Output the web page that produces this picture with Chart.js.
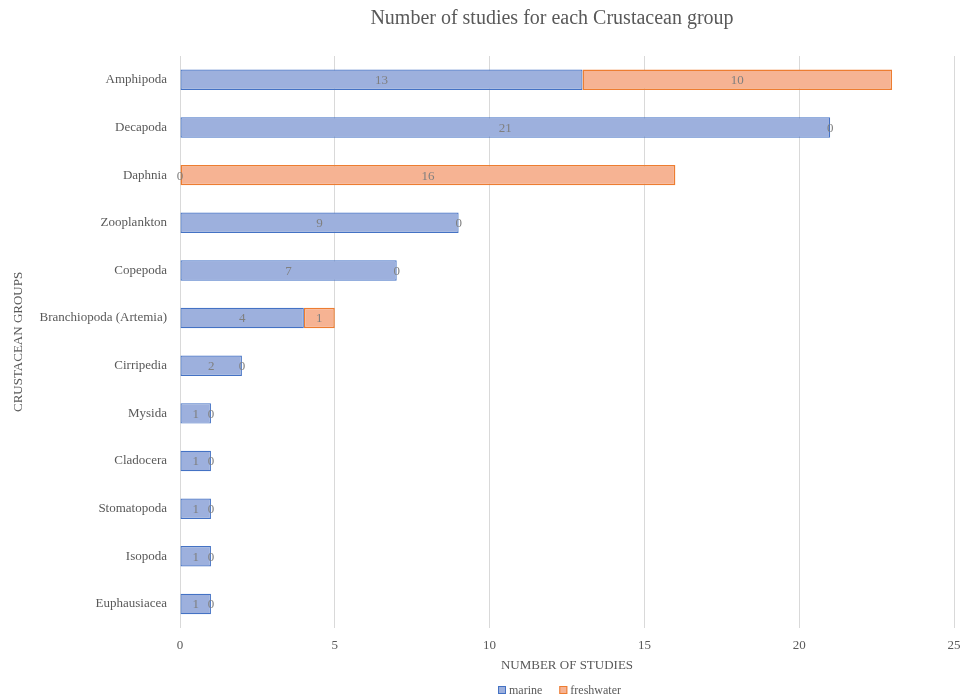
<!DOCTYPE html>
<html>
<head>
<meta charset="utf-8">
<script src="https://cdn.jsdelivr.net/npm/chart.js@4/dist/chart.umd.min.js"></script>
<style>
  body { margin: 0; background: #fff; }
  #wrap { width: 960px; height: 698px; }
</style>
</head>
<body>
<div id="wrap"><canvas id="chart" width="960" height="698"></canvas></div>
<script>
const groups = ['Amphipoda', 'Decapoda', 'Daphnia', 'Zooplankton', 'Copepoda', 'Branchiopoda (Artemia)',
    'Cirripedia', 'Mysida', 'Cladocera', 'Stomatopoda', 'Isopoda', 'Euphausiacea'];
const marine = [13, 21, 0, 9, 7, 4, 2, 1, 1, 1, 1, 1];
const freshwater = [10, 0, 16, 0, 0, 1, 0, 0, 0, 0, 0, 0];
const xTicks = [0, 5, 10, 15, 20, 25];

const serif = '"Liberation Serif", "DejaVu Serif", serif';
const grey = '#595959';

// value labels centred on each segment (zeros sit at the bar end)
const segLabels = {
    id: 'segLabels',
    afterDatasetsDraw(chart) {
        const ctx = chart.ctx;
        ctx.save();
        ctx.font = '13px ' + serif;
        ctx.fillStyle = '#7f7f7f';
        ctx.textAlign = 'center';
        ctx.textBaseline = 'middle';
        chart.data.datasets.forEach((ds, i) => {
            chart.getDatasetMeta(i).data.forEach((bar, j) => {
                const mid = (bar.x + bar.base) / 2;
                ctx.fillText(String(ds.data[j]), mid, bar.y + 1);
            });
        });
        ctx.restore();
    }
};

// title and legend placed like the original (centred over the plot, not the canvas)
const header = {
    id: 'header',
    afterDraw(chart) {
        const ctx = chart.ctx;
        ctx.save();
        ctx.fillStyle = grey;
        ctx.font = '20px ' + serif;
        ctx.textAlign = 'center';
        ctx.textBaseline = 'middle';
        ctx.fillText('Number of studies for each Crustacean group', 552, 19);

        ctx.font = '12px ' + serif;
        ctx.textAlign = 'left';
        let x = 498;
        const y = 690;
        chart.data.datasets.forEach(ds => {
            ctx.fillStyle = ds.backgroundColor;
            ctx.strokeStyle = ds.borderColor;
            ctx.lineWidth = 1;
            ctx.fillRect(x, y - 4, 8, 8);
            ctx.strokeRect(x + 0.5, y - 3.5, 7, 7);
            ctx.fillStyle = grey;
            ctx.fillText(ds.label, x + 11, y + 1);
            x += ctx.measureText(ds.label).width + 11 + 17;
        });
        ctx.restore();
    }
};

new Chart(document.getElementById('chart').getContext('2d'), {
    type: 'bar',
    data: {
        labels: groups,
        datasets: [
            {
                label: 'marine',
                data: marine,
                backgroundColor: '#9db0dd',
                borderColor: '#4472c4',
                borderWidth: 1.2,
                borderSkipped: false,
                inflateAmount: 0
            },
            {
                label: 'freshwater',
                data: freshwater,
                backgroundColor: '#f6b393',
                borderColor: '#ed7d31',
                borderWidth: 1.5,
                borderSkipped: false,
                inflateAmount: 0
            }
        ]
    },
    options: {
        indexAxis: 'y',
        responsive: false,
        animation: false,
        datasets: { bar: { categoryPercentage: 1, barPercentage: 0.43 } },
        layout: { autoPadding: false, padding: { top: 56, right: 6, bottom: 25, left: 11 } },
        scales: {
            x: {
                stacked: true,
                min: 0,
                max: 25,
                afterBuildTicks: axis => { axis.ticks = xTicks.map(v => ({ value: v })); },
                afterFit: axis => { axis.paddingLeft = 0; axis.paddingRight = 0; },
                grid: { color: '#d9d9d9', drawTicks: false },
                border: { display: false },
                ticks: { color: grey, font: { family: serif, size: 13 }, padding: 10 },
                title: {
                    display: true,
                    text: 'NUMBER OF STUDIES',
                    color: grey,
                    font: { family: serif, size: 13 },
                    padding: { top: -6, bottom: 0 }
                }
            },
            y: {
                stacked: true,
                afterFit: axis => { axis.width = 169; },
                grid: { display: false, drawTicks: false },
                border: { display: false },
                ticks: { color: grey, font: { family: serif, size: 13 }, padding: 13 },
                title: {
                    display: true,
                    text: 'CRUSTACEAN GROUPS',
                    color: grey,
                    font: { family: serif, size: 13 },
                    padding: { top: 0, bottom: 0 }
                }
            }
        },
        plugins: {
            legend: { display: false },
            title: { display: false },
            tooltip: { enabled: false }
        }
    },
    plugins: [segLabels, header]
});
</script>
</body>
</html>
